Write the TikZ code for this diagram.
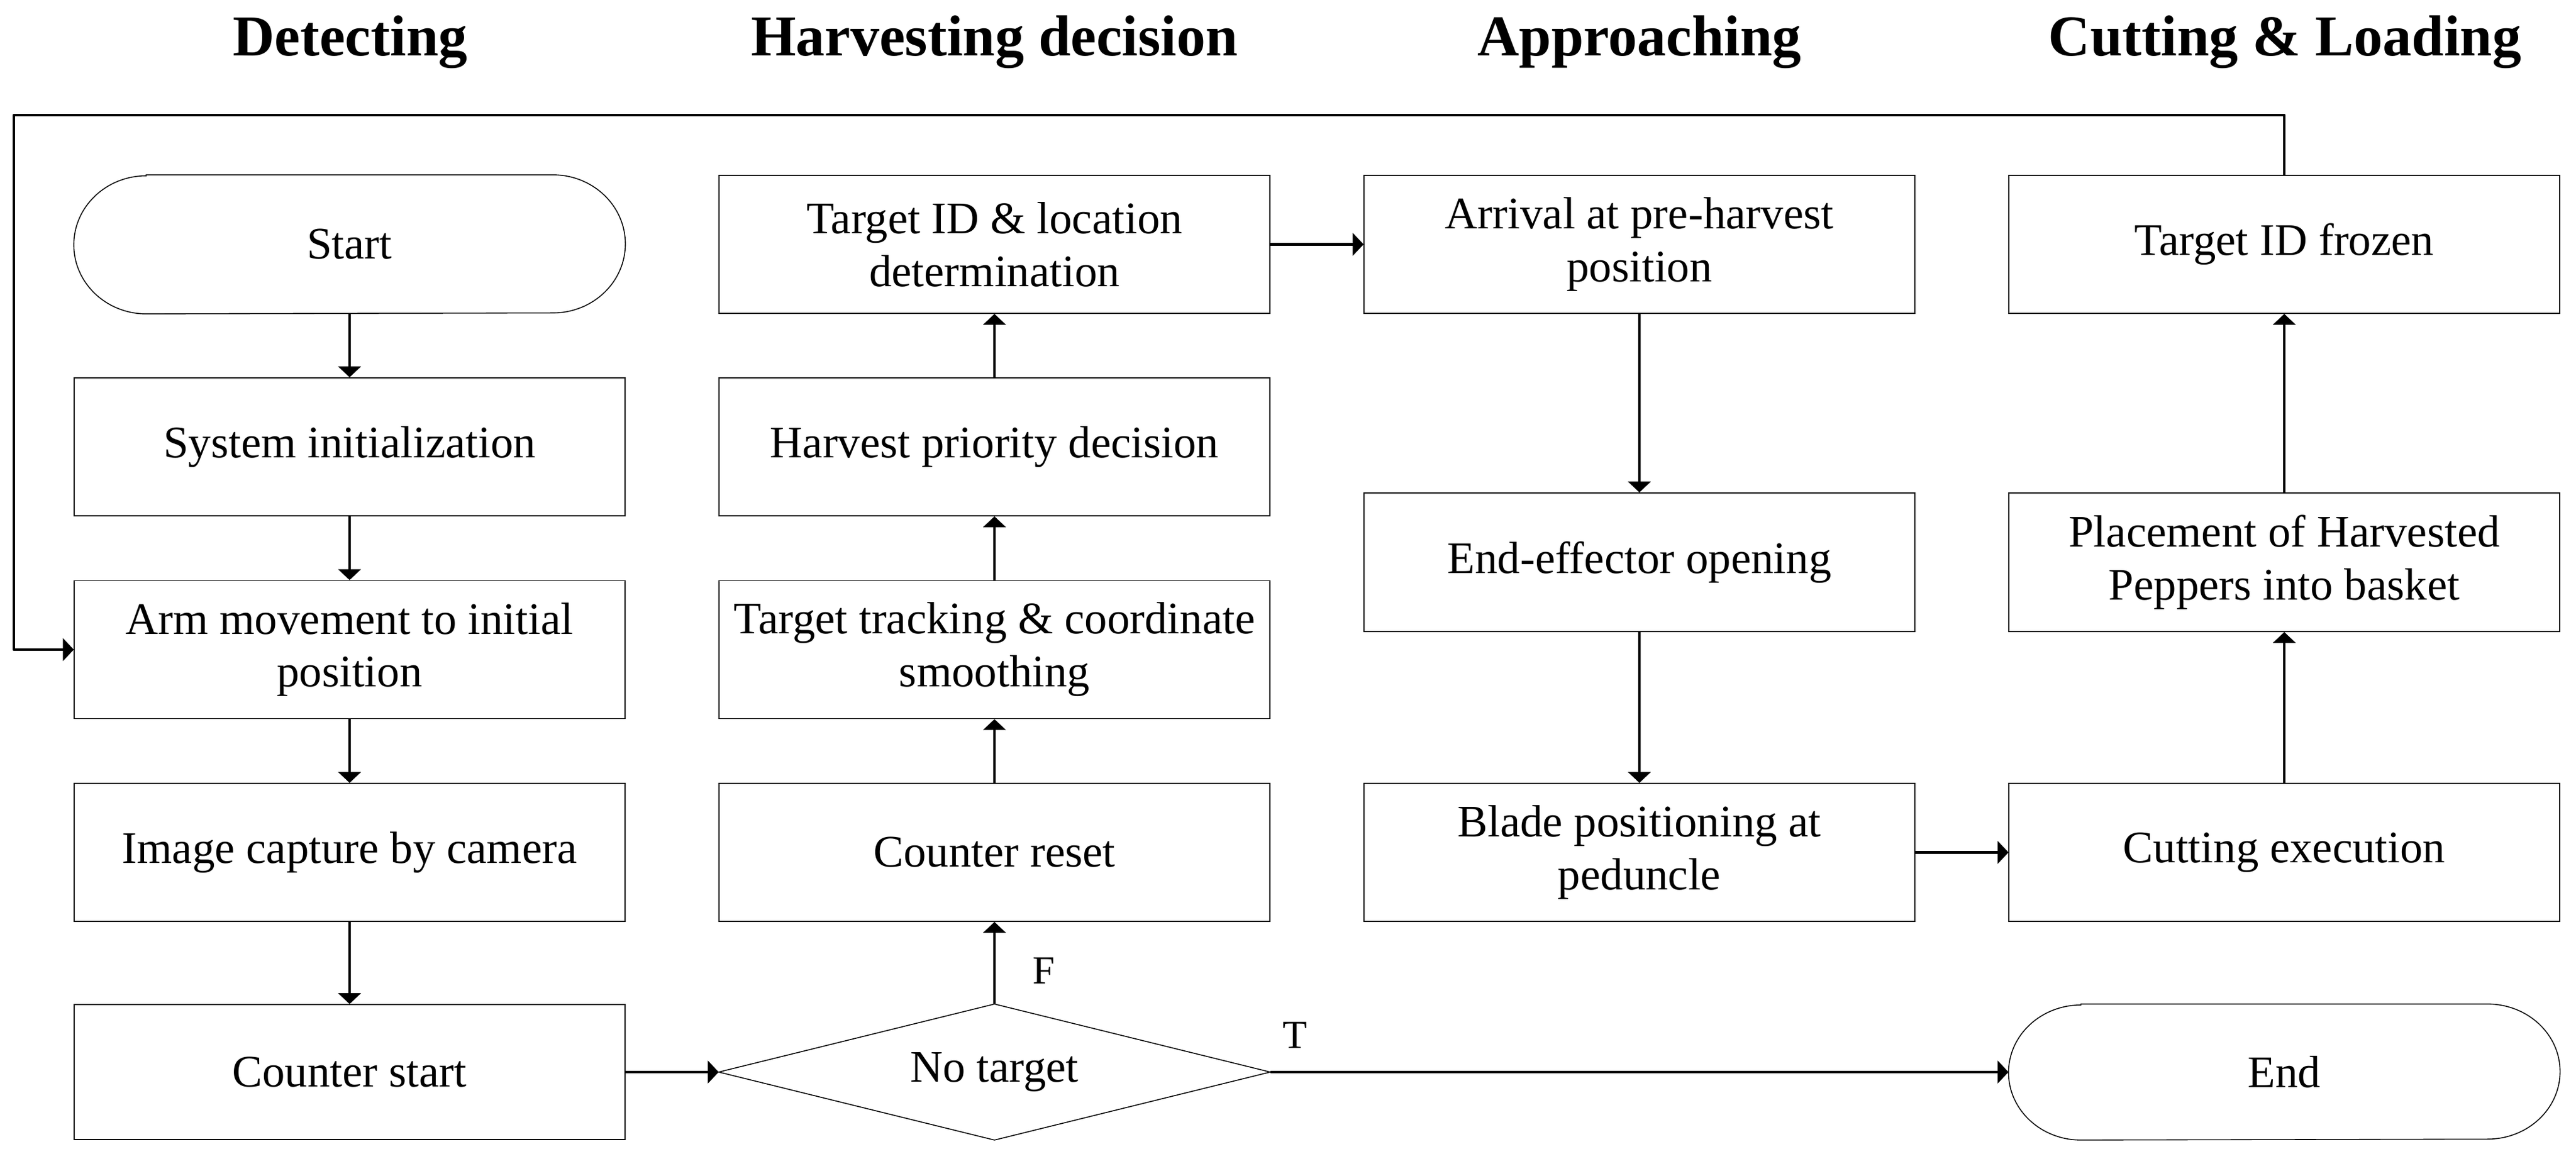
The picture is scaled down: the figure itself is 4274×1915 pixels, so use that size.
\documentclass[tikz,border=0pt]{standalone}
\usepackage{fontspec}
\setmainfont{Liberation Serif}
\usetikzlibrary{arrows.meta}
\begin{document}
\begin{tikzpicture}[x=0.01cm,y=-0.01cm,
  box/.style={draw, line width=0.45pt, minimum width=9.13cm, minimum height=2.29cm,
    inner sep=0pt, align=center, font=\fontsize{21.3pt}{25pt}\selectfont},
  termbox/.style={box, draw=none},
  title/.style={anchor=base, inner sep=0pt, font=\fontsize{27.3pt}{30pt}\selectfont\bfseries},
  lbl/.style={inner sep=0pt, font=\fontsize{18.8pt}{22pt}\selectfont},
  conn/.style={line width=1.35pt, line join=round, -{Triangle[length=0.18cm,width=0.37cm]}},
  outline/.style={line width=0.45pt, line join=miter}
]
\useasboundingbox (0,0) rectangle (4274,1915);

% titles
\node[title] (t1) at (581,92) {Detecting};
\node[title] (t2) at (1650,92) {Harvesting decision};
\node[title] (t3) at (2720,92) {Approaching};
\node[title] (t4) at (3791,92) {Cutting \& Loading};

% column 1
\node[termbox] (start) at (580,405.5) {Start};
\node[box] (sys) at (580,741.5) {System initialization};
\node[box] (arm) at (580,1078) {Arm movement to initial\\position};
\node[box] (img) at (580,1414.5) {Image capture by camera};
\node[box, minimum height=2.24cm] (cnt) at (580,1779) {Counter start};

% column 2
\node[box] (tid) at (1650,405.5) {Target ID \& location\\determination};
\node[box] (prio) at (1650,741.5) {Harvest priority decision};
\node[box] (track) at (1650,1078) {Target tracking \& coordinate\\smoothing};
\node[box] (reset) at (1650,1414.5) {Counter reset};
\node[termbox, minimum height=2.24cm] (dec) at (1650,1779) {No target};

% column 3
\node[box] (arr) at (2720,405.5) {Arrival at pre-harvest\\position};
\node[box, minimum height=2.30cm] (eff) at (2720,933) {End-effector opening};
\node[box] (blade) at (2720,1414.5) {Blade positioning at\\peduncle};

% column 4
\node[box] (frz) at (3790,405.5) {Target ID frozen};
\node[box, minimum height=2.30cm] (place) at (3790,933) {Placement of Harvested\\Peppers into basket};
\node[box] (cut) at (3790,1414.5) {Cutting execution};
\node[termbox, minimum height=2.24cm] (end) at (3790,1779) {End};

% decision outline
\draw[outline] (dec.north) -- (dec.east) -- (dec.south) -- (dec.west) -- cycle;

% terminator outlines
\draw[outline] ([xshift=1.2cm]start.north west) -- ([xshift=-1.2cm]start.north east)
  arc[start angle=90, end angle=-90, x radius=1.2cm, y radius=1.145cm]
  -- ([xshift=1.2cm]start.south west)
  arc[start angle=270, end angle=90, x radius=1.2cm, y radius=1.145cm] -- cycle;
\draw[outline] ([xshift=1.2cm]end.north west) -- ([xshift=-1.2cm]end.north east)
  arc[start angle=90, end angle=-90, x radius=1.2cm, y radius=1.12cm]
  -- ([xshift=1.2cm]end.south west)
  arc[start angle=270, end angle=90, x radius=1.2cm, y radius=1.12cm] -- cycle;

% connectors column 1
\draw[conn] (start.south) -- (sys.north);
\draw[conn] (sys.south) -- (arm.north);
\draw[conn] (arm.south) -- (img.north);
\draw[conn] (img.south) -- (cnt.north);
\draw[conn] (cnt.east) -- (dec.west);

% column 2
\draw[conn] (dec.north) -- (reset.south);
\draw[conn] (reset.north) -- (track.south);
\draw[conn] (track.north) -- (prio.south);
\draw[conn] (prio.north) -- (tid.south);
\draw[conn] (tid.east) -- (arr.west);

% column 3
\draw[conn] (arr.south) -- (eff.north);
\draw[conn] (eff.south) -- (blade.north);
\draw[conn] (blade.east) -- (cut.west);

% column 4
\draw[conn] (cut.north) -- (place.south);
\draw[conn] (place.north) -- (frz.south);

% loop back
\coordinate (lt) at (23,191);
\draw[conn] (frz.north) |- (lt) |- (arm.west);

% decision to end
\draw[conn] (dec.east) -- (end.west);

% labels
\node[lbl, anchor=base west] (lf) at (1713,1632) {F};
\node[lbl, anchor=base] (lt2) at (2149,1739) {T};
\end{tikzpicture}
\end{document}
